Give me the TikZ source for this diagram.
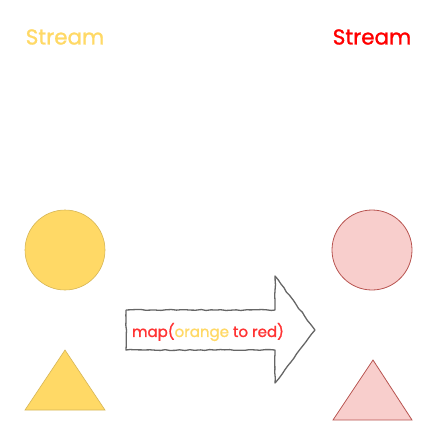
\documentclass[tikz,border=0pt]{standalone}
\usepackage{fontspec}
\setmainfont{Poppins}[FakeBold=1.2]
\usetikzlibrary{decorations.pathmorphing}

\definecolor{orangefill}{HTML}{FFD966}
\definecolor{orangeline}{HTML}{D6B656}
\definecolor{redfill}{HTML}{F8CECC}
\definecolor{redline}{HTML}{B85450}
\definecolor{redtext}{HTML}{FF3333}

\tikzset{
  orangeshape/.style={fill=orangefill, draw=orangeline, line width=0.6pt},
  redshape/.style={fill=redfill, draw=redline, line width=0.8pt},
  sketch/.style={draw=black!60, line width=1.3pt, line join=round,
    decorate, decoration={random steps, segment length=5pt, amplitude=0.5pt}}
}

\begin{document}
\begin{tikzpicture}[x=1pt, y=-1pt]

    \useasboundingbox (0, 0) rectangle (438, 421);

    % titles
    \node[text=orangefill, font=\fontsize{21.5}{24}\selectfont] (titleleft) at (65, 37) {Stream};
    \node[text=red, font=\fontsize{21.5}{24}\selectfont] (titleright) at (372, 37) {Stream};

    % left stream
    \draw[orangeshape] (65, 250) circle (40);
    \draw[orangeshape] (65, 350) -- (105, 410) -- (25, 410) -- cycle;

    % right stream
    \draw[redshape] (372, 250) circle (40);
    \draw[redshape] (373, 360) -- (412, 420) -- (333, 420) -- cycle;

    % the map arrow
    \fill[white] (126, 310) -- (275, 310) -- (275, 276) -- (315, 330)
        -- (275, 383) -- (275, 350) -- (126, 350) -- cycle;
    \draw[sketch] (126, 310) -- (275, 310) -- (275, 276) -- (315, 330);
    \draw[sketch] (315, 330) -- (275, 383) -- (275, 350) -- (126, 350) -- (126, 310);

    \node[font=\fontsize{15}{18}\selectfont, inner sep=0pt] (maplabel) at (208, 332)
        {{\color{redtext}map(}{\color{orangefill}orange}\ {\color{redtext}to red)}};

\end{tikzpicture}
\end{document}
